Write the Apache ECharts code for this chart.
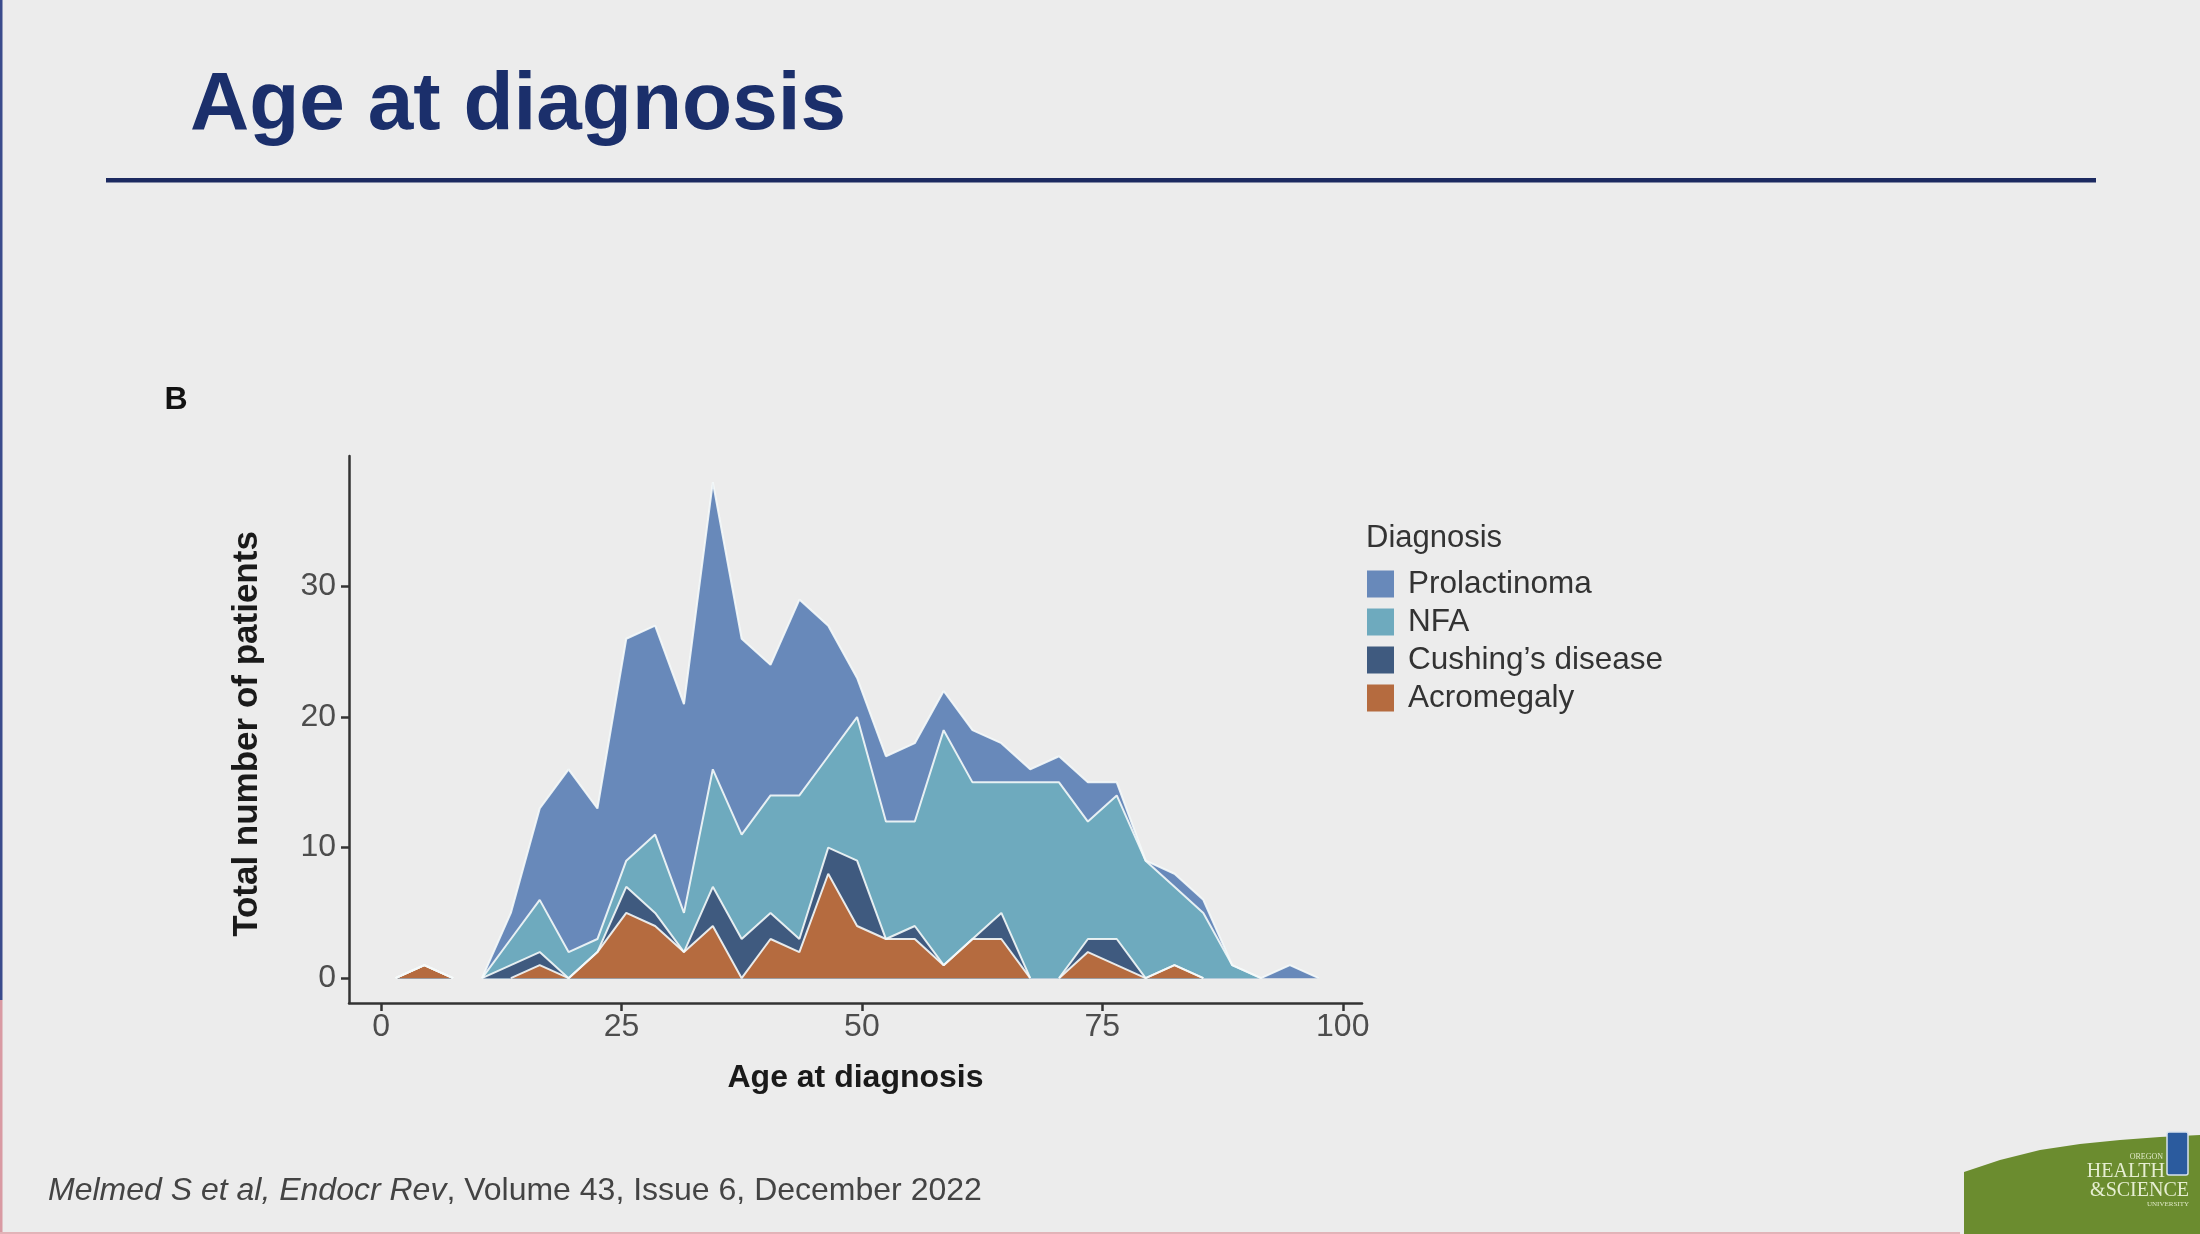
<!DOCTYPE html>
<html>
<head>
<meta charset="utf-8">
<script src="https://cdn.jsdelivr.net/npm/echarts@6/dist/echarts.min.js"></script>
<style>
  html, body { margin: 0; padding: 0; background: #ececec; }
  #chart { width: 2200px; height: 1234px; }
</style>
</head>
<body>
<div id="chart"></div>
<script>
// Age bin centres (years)
const ages = [1.5, 4.5, 7.5, 10.5, 13.5, 16.5, 19.5, 22.5, 25.5, 28.5, 31.5, 34.5, 37.5, 40.5, 43.5, 46.5, 49.5, 52.5, 55.5, 58.5, 61.5, 64.5, 67.5, 70.5, 73.5, 76.5, 79.5, 82.5, 85.5, 88.5, 91.5, 94.5, 97.5];
// Patients per bin, by diagnosis
const acromegaly   = [0,1,0,0,0,1,0,2,5,4,2,4,0,3,2,8,4,3,3,1,3,3,0,0,2,1,0,1,0,0,0,0,0];
const cushing      = [0,0,0,0,1,1,0,0,2,1,0,3,3,2,1,2,5,0,1,0,0,2,0,0,1,2,0,0,0,0,0,0,0];
const nfa          = [0,0,0,0,2,4,2,1,2,6,3,9,8,9,11,7,11,9,8,18,12,10,15,15,9,11,9,6,5,1,0,0,0];
const prolactinoma = [0,0,0,0,2,7,14,10,17,16,16,22,15,10,15,10,3,5,6,3,4,3,1,2,3,1,0,1,1,0,0,1,0];
const xTicks = [0, 25, 50, 75, 100];
const yTicks = [0, 10, 20, 30];
// stacking order, bottom to top
const stackNames = ['Acromegaly', "Cushing\u2019s disease", 'NFA', 'Prolactinoma'];
const stackValues = [acromegaly, cushing, nfa, prolactinoma];
const stackColors = ['#b56b3f', '#3f5a7f', '#6eaabe', '#6889ba'];
const legendOrder = ['Prolactinoma', 'NFA', "Cushing\u2019s disease", 'Acromegaly'];

const FONT = '"Liberation Sans", Arial, Helvetica, sans-serif';
const chart = echarts.init(document.getElementById('chart'), null, { renderer: 'canvas' });

// cumulative (stacked) tops, computed from the per-diagnosis counts
const running = ages.map(() => 0);
const cumulative = stackValues.map(vals => vals.map((v, j) => (running[j] += v)));

// build points; break the outline where a layer lies flat on the baseline
function buildPoints(vals) {
  const pts = [];
  for (let j = 0; j < ages.length; j++) {
    pts.push([ages[j], vals[j]]);
    if (j < ages.length - 1 && vals[j] === 0 && vals[j + 1] === 0) {
      pts.push([(ages[j] + ages[j + 1]) / 2, null]);
    }
  }
  return pts;
}

// draw top layer first so lower layers paint over it (stacked look)
const series = [];
for (let i = stackNames.length - 1; i >= 0; i--) {
  series.push({
    name: stackNames[i],
    type: 'line',
    color: stackColors[i],
    symbol: 'none',
    silent: true,
    connectNulls: false,
    lineStyle: { color: 'rgba(245,250,250,0.9)', width: 2 },
    areaStyle: { color: stackColors[i], opacity: 1, origin: 0 },
    data: buildPoints(cumulative[i])
  });
}

chart.setOption({
  backgroundColor: '#ececec',
  animation: false,
  grid: { left: 349, top: 456, width: 1013, height: 547, containLabel: false },
  xAxis: {
    type: 'value', min: -3.33, max: 102,
    splitLine: { show: false },
    axisLine: { show: true, onZero: false, lineStyle: { color: '#333', width: 2.5 } },
    axisTick: { show: true, length: 8, customValues: xTicks, lineStyle: { color: '#333', width: 2.5 } },
    axisLabel: { customValues: xTicks, margin: 8, fontSize: 32, color: '#4d4d4d', fontFamily: FONT }
  },
  yAxis: {
    type: 'value', min: -1.9, max: 40,
    splitLine: { show: false },
    axisLine: { show: true, onZero: false, lineStyle: { color: '#333', width: 2.5 } },
    axisTick: { show: true, length: 8, customValues: yTicks, lineStyle: { color: '#333', width: 2.5 } },
    axisLabel: { customValues: yTicks, margin: 13, fontSize: 32, color: '#4d4d4d', fontFamily: FONT }
  },
  legend: {
    data: legendOrder,
    orient: 'vertical',
    left: 1367, top: 568,
    padding: 0,
    icon: 'rect',
    itemWidth: 27, itemHeight: 27, itemGap: 6,
    selectedMode: false,
    itemStyle: { borderWidth: 0 },
    textStyle: { fontSize: 31.5, color: '#333', fontFamily: FONT, padding: [0, 0, 0, 9] }
  },
  series: series,
  graphic: [
    { type: 'rect', shape: { x: 0, y: 0, width: 2.5, height: 1000 }, style: { fill: '#3a4b8c' } },
    { type: 'rect', shape: { x: 0, y: 1000, width: 2.5, height: 234 }, style: { fill: '#d99aa3' } },
    { type: 'rect', shape: { x: 0, y: 1232, width: 1960, height: 2 }, style: { fill: '#e3b3b8' } },
    { type: 'text', x: 190, y: 106, style: { text: 'Age at diagnosis', font: 'bold 82px ' + FONT, fill: '#1b2f6b', align: 'left', verticalAlign: 'middle' } },
    { type: 'rect', shape: { x: 106, y: 178, width: 1990, height: 4.5 }, style: { fill: '#1c2a60' } },
    { type: 'text', x: 176, y: 400, style: { text: 'B', font: 'bold 32px ' + FONT, fill: '#111', align: 'center', verticalAlign: 'middle' } },
    { type: 'text', x: 247, y: 734, rotation: Math.PI / 2, style: { text: 'Total number of patients', font: 'bold 35px ' + FONT, fill: '#1a1a1a', align: 'center', verticalAlign: 'middle' } },
    { type: 'text', x: 855.5, y: 1078, style: { text: 'Age at diagnosis', font: 'bold 32px ' + FONT, fill: '#1a1a1a', align: 'center', verticalAlign: 'middle' } },
    { type: 'text', x: 1366, y: 538, style: { text: 'Diagnosis', font: '31px ' + FONT, fill: '#333', align: 'left', verticalAlign: 'middle' } },
    { type: 'text', x: 48, y: 1191, style: {
        text: '{i|Melmed S et al, Endocr Rev}{n|, Volume 43, Issue 6, December 2022}',
        align: 'left', verticalAlign: 'middle',
        rich: {
          i: { font: 'italic 32px ' + FONT, fill: '#444' },
          n: { font: '32px ' + FONT, fill: '#444' }
        }
      } },
    { type: 'polygon', shape: { points: [[1964, 1234], [1964, 1172], [2000, 1160], [2040, 1150], [2080, 1144], [2120, 1140], [2160, 1137], [2200, 1135], [2200, 1234]] }, style: { fill: '#6b8c2f' } },
    { type: 'rect', shape: { x: 2167, y: 1132, width: 21, height: 43, r: 2 }, style: { fill: '#2b5b9e', stroke: '#d8e2ee', lineWidth: 1.5 } },
    { type: 'text', x: 2163, y: 1157, style: { text: 'OREGON', font: '8px "Liberation Serif", serif', fill: '#dfe8c6', align: 'right', verticalAlign: 'middle' } },
    { type: 'text', x: 2165, y: 1172, style: { text: 'HEALTH', font: '20px "Liberation Serif", serif', fill: '#e6eed2', align: 'right', verticalAlign: 'middle' } },
    { type: 'text', x: 2189, y: 1191, style: { text: '&SCIENCE', font: '20px "Liberation Serif", serif', fill: '#e6eed2', align: 'right', verticalAlign: 'middle' } },
    { type: 'text', x: 2189, y: 1204, style: { text: 'UNIVERSITY', font: '7px "Liberation Serif", serif', fill: '#dfe8c6', align: 'right', verticalAlign: 'middle' } }
  ]
});
</script>
</body>
</html>
